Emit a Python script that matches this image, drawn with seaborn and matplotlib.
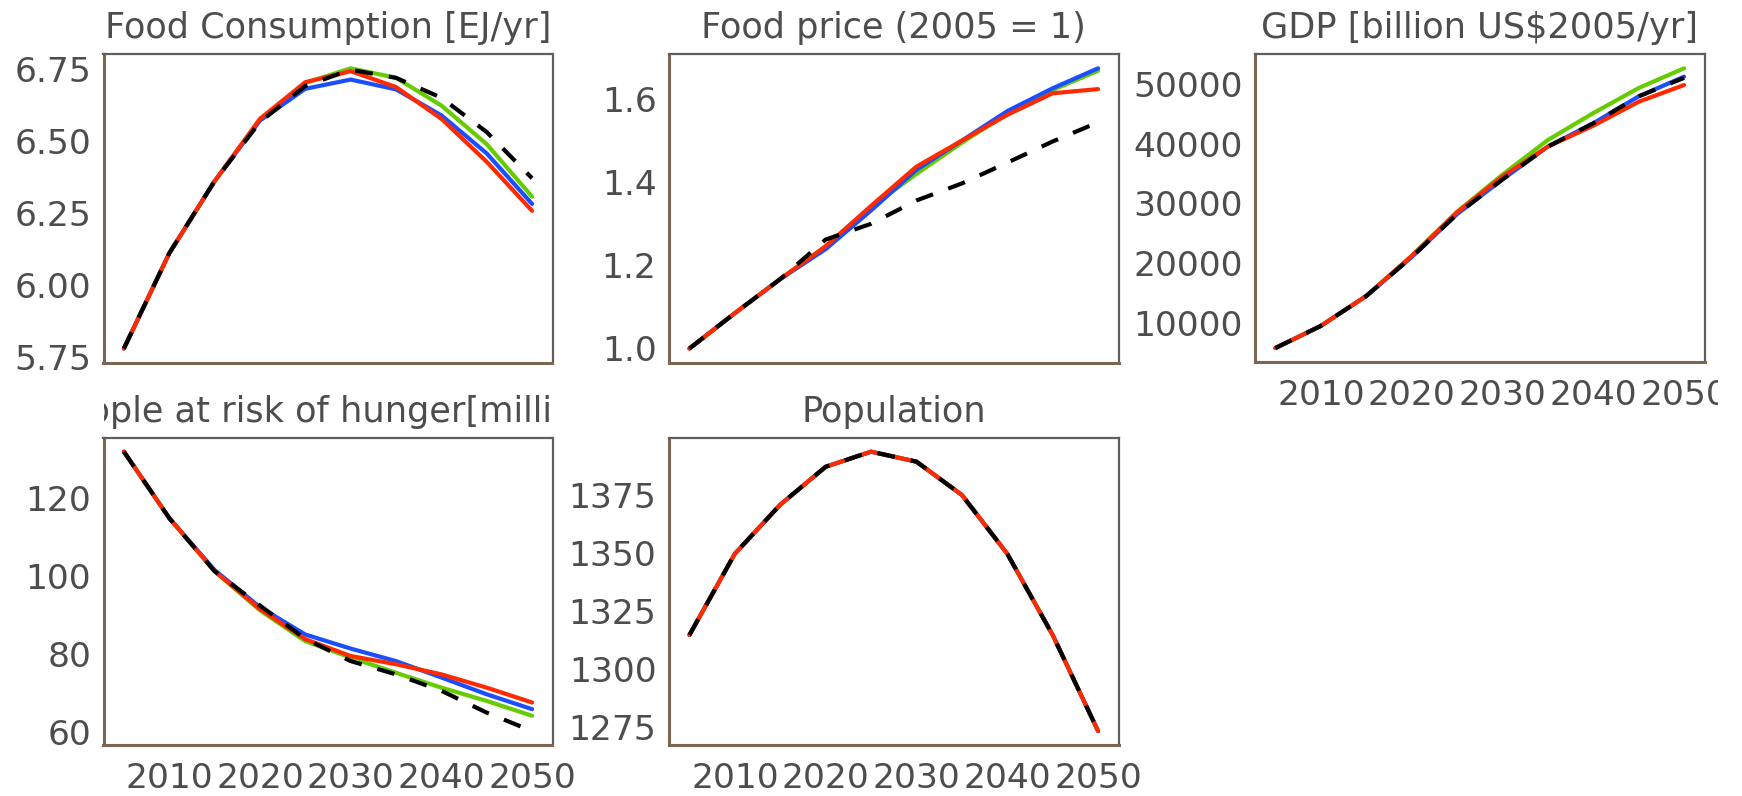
import matplotlib
matplotlib.use("Agg")
import matplotlib.pyplot as plt
from matplotlib.transforms import Bbox, TransformedBbox
import seaborn as sns
import pandas as pd

# ---- data ---------------------------------------------------------------
years = [2005, 2010, 2015, 2020, 2025, 2030, 2035, 2040, 2045, 2050]
scenarios = ["Scenario A", "Scenario B", "Scenario C", "Reference"]

food_cons_a = [5.78, 6.11, 6.36, 6.572, 6.70, 6.751, 6.718, 6.622, 6.488, 6.306]
food_cons_b = [5.78, 6.11, 6.36, 6.570, 6.68, 6.712, 6.678, 6.588, 6.456, 6.281]
food_cons_c = [5.78, 6.11, 6.36, 6.576, 6.703, 6.741, 6.686, 6.576, 6.427, 6.257]
food_cons_ref = [5.78, 6.11, 6.36, 6.565, 6.69, 6.746, 6.718, 6.649, 6.530, 6.370]

food_price_a = [1.0, 1.085, 1.167, 1.245, 1.340, 1.420, 1.495, 1.565, 1.622, 1.668]
food_price_b = [1.0, 1.085, 1.167, 1.239, 1.332, 1.430, 1.500, 1.571, 1.626, 1.674]
food_price_c = [1.0, 1.085, 1.167, 1.246, 1.343, 1.4375, 1.500, 1.562, 1.614, 1.624]
food_price_ref = [1.0, 1.085, 1.167, 1.262, 1.300, 1.356, 1.397, 1.447, 1.498, 1.544]

gdp_a = [5800, 9500, 14500, 21200, 28600, 34800, 40600, 45100, 49300, 52600]
gdp_b = [5800, 9500, 14500, 21000, 28200, 34000, 39500, 43400, 47900, 51200]
gdp_c = [5800, 9500, 14500, 21200, 28500, 34500, 39500, 43000, 47000, 49800]
gdp_ref = [5800, 9500, 14500, 21000, 28200, 34000, 39500, 43400, 47900, 51000]

hunger_a = [131.8, 114.8, 101.2, 91.2, 83.3, 79.1, 75.2, 71.4, 68.0, 64.2]
hunger_b = [131.8, 114.8, 101.5, 92.0, 85.0, 81.4, 78.2, 74.0, 69.7, 65.9]
hunger_c = [131.8, 114.8, 101.2, 91.5, 83.8, 79.5, 77.4, 74.8, 71.4, 67.6]
hunger_ref = [131.8, 114.8, 101.2, 92.4, 83.9, 78.2, 74.8, 70.6, 65.0, 60.3]

population = [1314.7, 1349.6, 1370.7, 1387.0, 1393.5, 1389.2, 1374.9, 1349.6, 1314.7, 1273.4]

panel_titles = [
    "Food Consumption [EJ/yr]",
    "Food price (2005 = 1)",
    "GDP [billion US$2005/yr]",
    "People at risk of hunger[million]",
    "Population",
]
panel_series = [
    [food_cons_a, food_cons_b, food_cons_c, food_cons_ref],
    [food_price_a, food_price_b, food_price_c, food_price_ref],
    [gdp_a, gdp_b, gdp_c, gdp_ref],
    [hunger_a, hunger_b, hunger_c, hunger_ref],
    [population, population, population, population],
]
y_ticks = [
    [5.75, 6.00, 6.25, 6.50, 6.75],
    [1.0, 1.2, 1.4, 1.6],
    [10000, 20000, 30000, 40000, 50000],
    [60, 80, 100, 120],
    [1275, 1300, 1325, 1350, 1375],
]
y_formats = ["{:.2f}", "{:.1f}", "{:.0f}", "{:.0f}", "{:.0f}"]
x_ticks = [2010, 2020, 2030, 2040, 2050]
show_x_axis = [False, False, True, True, True]

# ---- styling ------------------------------------------------------------
sns.set_theme(style="white")
plt.rcParams["font.family"] = ["DejaVu Sans"]

palette = {"Scenario A": "#66CC00", "Scenario B": "#1A4FFF",
           "Scenario C": "#FF2A00", "Reference": "#000000"}
dashes = {"Scenario A": "", "Scenario B": "", "Scenario C": "",
          "Reference": (4.3, 3.9)}
text_col = "#4D4D4D"
axis_col = "#7A6652"
border_col = "#5E5E5E"
font_size = 24.8
title_size = 25.3

W, H = 1742, 796
fig = plt.figure(figsize=(W / 100, H / 100), dpi=100)

# panel boxes in pixels: (left, top, right, bottom)
boxes = [
    (103.5, 54.3, 552.5, 362.5),
    (669.0, 54.3, 1118.5, 362.5),
    (1255.0, 54.3, 1704.5, 362.0),
    (103.5, 437.7, 552.5, 745.0),
    (669.0, 437.7, 1118.5, 745.0),
]

axes = []
for i, (l, t, r, b) in enumerate(boxes):
    ax = fig.add_axes([l / W, 1 - b / H, (r - l) / W, (b - t) / H])
    axes.append(ax)
    rows = []
    for name, vals in zip(scenarios, panel_series[i]):
        for yr, v in zip(years, vals):
            rows.append({"year": yr, "value": v, "scenario": name})
    df = pd.DataFrame(rows)
    sns.lineplot(data=df, x="year", y="value", hue="scenario", style="scenario",
                 hue_order=scenarios, style_order=scenarios, palette=palette,
                 dashes=dashes, linewidth=3.0, legend=False, ax=ax)
    ax.margins(x=0.05, y=0.05)
    ax.set_xlabel("")
    ax.set_ylabel("")

    ax.set_yticks(y_ticks[i])
    ax.set_yticklabels([y_formats[i].format(v) for v in y_ticks[i]])
    ax.set_xticks(x_ticks)
    if show_x_axis[i]:
        ax.set_xticklabels([str(v) for v in x_ticks])
        ax.tick_params(axis="x", length=4.5, width=1.5, color=axis_col,
                       labelsize=font_size, labelcolor=text_col, pad=7.5)
    else:
        ax.tick_params(axis="x", length=0, labelbottom=False)
    ax.tick_params(axis="y", length=5, width=1.5, color=axis_col,
                   labelsize=font_size, labelcolor=text_col, pad=4)

    for side in ("left", "bottom"):
        ax.spines[side].set_color(axis_col)
        ax.spines[side].set_linewidth(2.2)
    for side in ("top", "right"):
        ax.spines[side].set_color(border_col)
        ax.spines[side].set_linewidth(1.6)
    ax.grid(False)

    # facet strip title, clipped to the panel width
    title = ax.text(0.5, 1 + 16 / (b - t), panel_titles[i], transform=ax.transAxes,
                    ha="center", va="baseline", fontsize=title_size, color=text_col)
    title.set_clip_box(TransformedBbox(Bbox([[0, 0], [1, 2]]), ax.transAxes))
    title.set_clip_on(True)

# the right-hand axis labels run off the drawing area
fig.canvas.draw()
edge = TransformedBbox(Bbox([[0, 0], [1718 / W, 1]]), fig.transFigure)
for lbl in axes[2].get_xticklabels():
    lbl.set_clip_box(edge)
    lbl.set_clip_on(True)

fig.savefig("out.png", dpi=100)
